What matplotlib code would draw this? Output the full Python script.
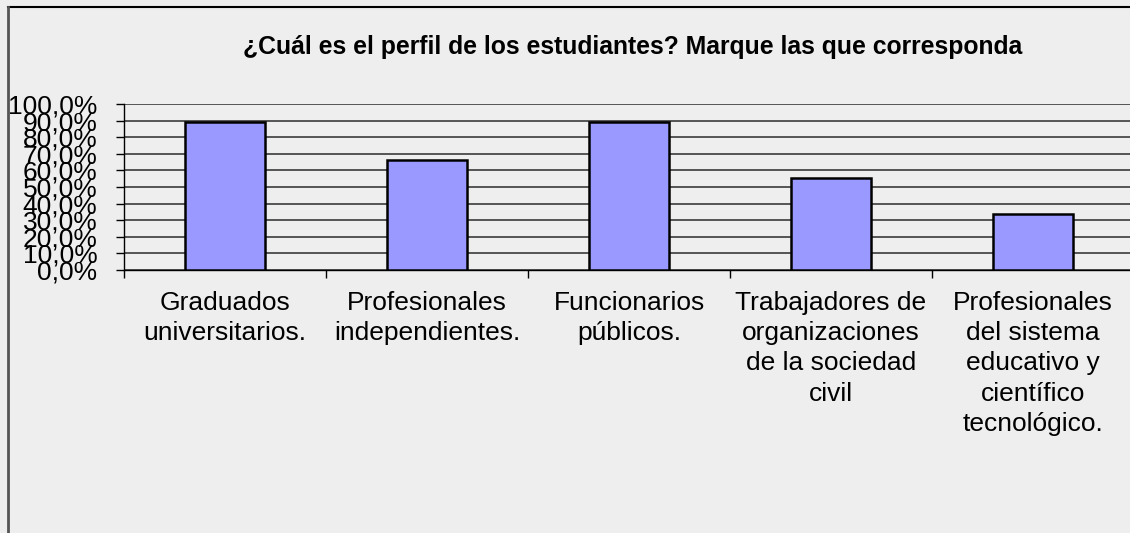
import matplotlib
matplotlib.use("Agg")
import matplotlib.pyplot as plt
from matplotlib.lines import Line2D
from matplotlib.ticker import FuncFormatter

categories = [
    "Graduados\nuniversitarios.",
    "Profesionales\nindependientes.",
    "Funcionarios\npúblicos.",
    "Trabajadores de\norganizaciones\nde la sociedad\ncivil",
    "Profesionales\ndel sistema\neducativo y\ncientífico\ntecnológico.",
]
values = [89.2, 66.3, 89.2, 55.4, 33.6]
yticks = [0, 10, 20, 30, 40, 50, 60, 70, 80, 90, 100]
title = "¿Cuál es el perfil de los estudiantes? Marque las que corresponda"

W, H = 1130, 533
fig = plt.figure(figsize=(W / 100, H / 100), dpi=100)
fig.patch.set_facecolor("#EEEEEE")

ax_left, ax_right, ax_top, ax_bottom = 124, 1134, 104, 270
ax = fig.add_axes([ax_left / W, 1 - ax_bottom / H, (ax_right - ax_left) / W, (ax_bottom - ax_top) / H])
ax.set_facecolor("#EEEEEE")

x = list(range(len(categories)))
ax.bar(x, values, width=0.4, color="#9999FF", edgecolor="black", linewidth=1.8, zorder=3)

ax.set_xlim(-0.5, len(categories) - 0.5)
ax.set_ylim(0, 100)
ax.set_yticks(yticks)
ax.yaxis.set_major_formatter(FuncFormatter(lambda v, p: f"{v:.1f}%".replace(".", ",")))
ax.yaxis.grid(True, color="#3a3a3a", linewidth=1.2, zorder=0)
ax.set_axisbelow(True)

for s in ["top", "right"]:
    ax.spines[s].set_visible(False)
ax.spines["left"].set_color("black")
ax.spines["bottom"].set_color("black")
ax.spines["left"].set_linewidth(1.0)
ax.spines["bottom"].set_linewidth(1.0)

# category boundaries as major ticks, labels at centers as minor ticks
ax.set_xticks([i - 0.5 for i in range(len(categories) + 1)])
ax.set_xticklabels([])
ax.set_xticks(x, minor=True)
ax.set_xticklabels(categories, minor=True, fontsize=19, family=["Liberation Sans", "DejaVu Sans"],
                   linespacing=1.33, va="top")
ax.tick_params(axis="x", which="major", direction="out", length=6, width=1, color="black")
ax.tick_params(axis="x", which="minor", length=0, pad=15)
ax.tick_params(axis="y", direction="out", length=6, width=1, pad=13)
for lbl in ax.get_yticklabels():
    lbl.set_fontsize(19)
    lbl.set_family(["Liberation Sans", "DejaVu Sans"])

fig.text(633 / W, 1 - 47 / H, title, ha="center", va="center", fontsize=17.8,
         fontweight="bold", family=["Liberation Sans", "DejaVu Sans"])

# chart frame lines
fig.add_artist(Line2D([8 / W, 1], [1 - 7 / H, 1 - 7 / H], transform=fig.transFigure, color="black", linewidth=1.5))
fig.add_artist(Line2D([8 / W, 8 / W], [1 - 7 / H, 0], transform=fig.transFigure, color="#555555", linewidth=2))

fig.savefig("out.png", dpi=100, facecolor=fig.get_facecolor())
